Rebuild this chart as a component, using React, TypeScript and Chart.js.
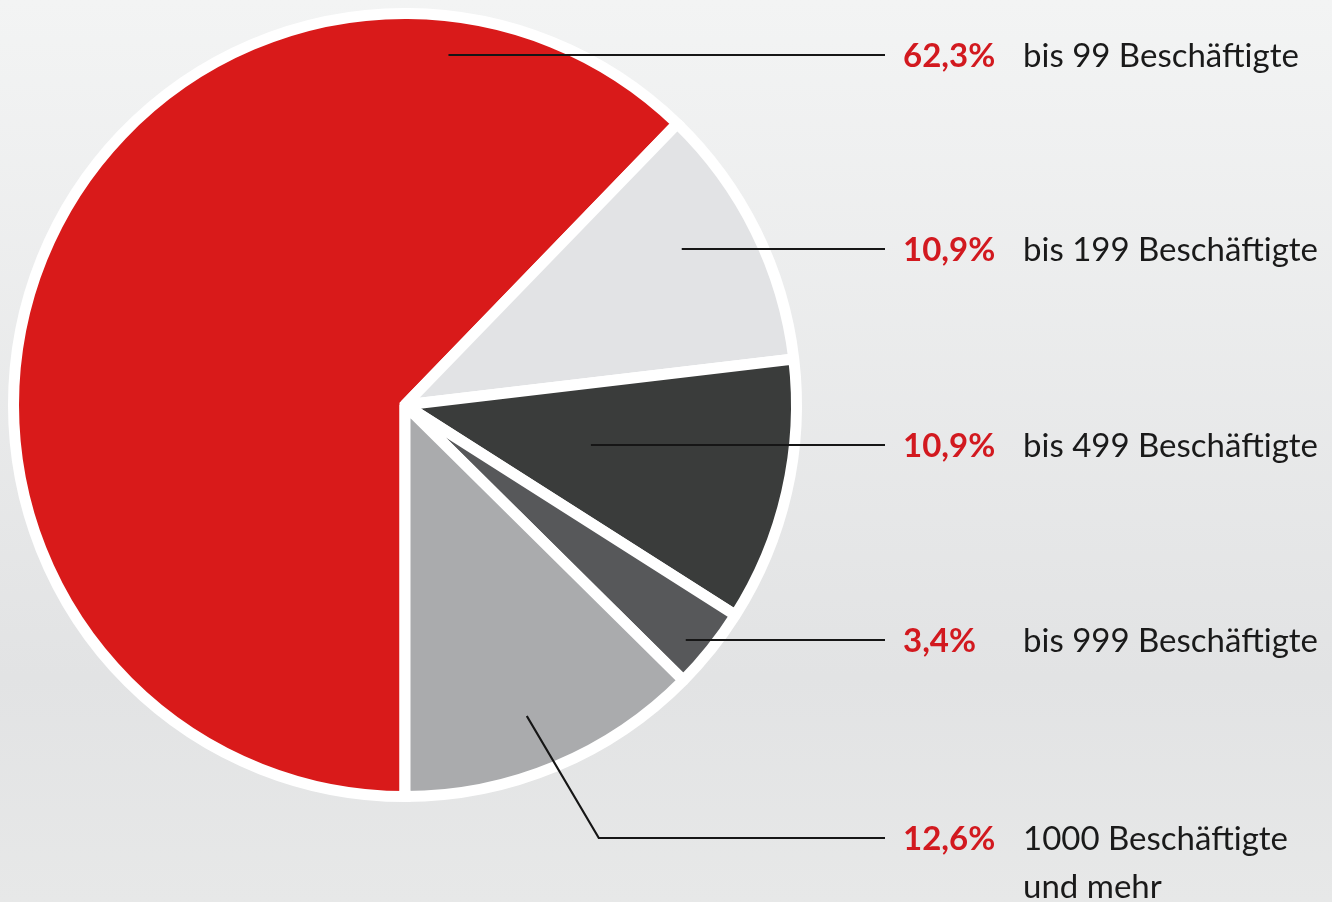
import React, { useEffect, useRef } from "react";
import { Chart, registerables } from "chart.js";

Chart.register(...registerables);

// ---- data ----
const categories: string[][] = [
  ["bis 99 Beschäftigte"],
  ["bis 199 Beschäftigte"],
  ["bis 499 Beschäftigte"],
  ["bis 999 Beschäftigte"],
  ["1000 Beschäftigte", "und mehr"],
];
const shares: number[] = [62.3, 10.9, 10.9, 3.4, 12.6];
const sliceColors: string[] = ["#D91A1A", "#E2E3E5", "#3A3C3B", "#57585A", "#AAABAD"];

const formatShare = (v: number) => v.toFixed(1).replace(".", ",") + "%";

// ---- label / leader plugin ----
const leaderPlugin = {
  id: "leaderLabels",
  beforeDraw(chart: any) {
    const { ctx, width, height } = chart;
    const g = ctx.createLinearGradient(0, 0, 0, height);
    g.addColorStop(0, "#F3F4F4");
    g.addColorStop(0.75, "#E2E3E4");
    g.addColorStop(1, "#E7E8E8");
    ctx.save();
    ctx.fillStyle = g;
    ctx.fillRect(0, 0, width, height);
    ctx.restore();
  },
  afterDraw(chart: any, _args: any, opts: any) {
    const { ctx } = chart;
    const meta = chart.getDatasetMeta(0);
    const labels = chart.data.labels as string[][];
    const values = chart.data.datasets[0].data as number[];
    ctx.save();
    meta.data.forEach((arc: any, i: number) => {
      const { x, y, startAngle, endAngle, outerRadius } = arc.getProps(
        ["x", "y", "startAngle", "endAngle", "outerRadius"],
        true
      );
      const a = opts.anchors[i];
      const ang = startAngle + (endAngle - startAngle) * a.t;
      const ax = x + Math.cos(ang) * outerRadius * a.r;
      const ay = y + Math.sin(ang) * outerRadius * a.r;
      const drop = a.drop || 0;
      const labelY = Math.round(ay + drop);

      ctx.strokeStyle = "#161616";
      ctx.lineWidth = 2.2;
      ctx.lineJoin = "miter";
      ctx.beginPath();
      ctx.moveTo(ax, drop ? ay : labelY);
      if (drop) ctx.lineTo(ax + a.dropDx, labelY);
      ctx.lineTo(opts.lineEndX, labelY);
      ctx.stroke();

      const base = labelY + opts.baselineShift;
      ctx.textBaseline = "alphabetic";
      ctx.textAlign = "left";
      ctx.font = `bold ${opts.fontSize}px Lato, "Open Sans", sans-serif`;
      ctx.fillStyle = "#D2191F";
      ctx.fillText(formatShare(values[i]), opts.shareX, base);

      ctx.font = `${opts.fontSize}px Lato, "Open Sans", sans-serif`;
      ctx.fillStyle = "#1A1A1A";
      labels[i].forEach((line: string, k: number) => {
        ctx.fillText(line, opts.categoryX, base + k * opts.lineHeight);
      });
    });
    ctx.restore();
  },
};

export default function App() {
  const canvasRef = useRef<HTMLCanvasElement | null>(null);

  useEffect(() => {
    if (!canvasRef.current) return;
    const chart = new Chart(canvasRef.current, {
      type: "pie",
      data: {
        labels: categories,
        datasets: [
          {
            data: shares,
            backgroundColor: sliceColors,
            borderColor: "#FFFFFF",
            borderWidth: 11,
            borderJoinStyle: ["miter", "bevel", "bevel", "bevel", "bevel"] as any,
          },
        ],
      },
      options: {
        responsive: false,
        animation: false,
        events: [],
        rotation: 180,
        layout: { padding: { left: 8, top: 8, right: 530, bottom: 100 } },
        plugins: {
          legend: { display: false },
          tooltip: { enabled: false },
          leaderLabels: {
            anchors: [
              { t: 0.835, r: 0.9 },
              { t: 0.42, r: 0.812 },
              { t: 0.485, r: 0.486 },
              { t: 0.61, r: 0.935 },
              { t: 0.528, r: 0.853, drop: 122, dropDx: 72 },
            ],
            lineEndX: 885,
            shareX: 903,
            categoryX: 1023,
            fontSize: 33,
            baselineShift: 12,
            lineHeight: 48,
          },
        } as any,
      },
      plugins: [leaderPlugin],
    });
    return () => chart.destroy();
  }, []);

  return (
    <div style={{ position: "absolute", left: 0, top: 0, width: 1332, height: 902 }}>
      <canvas ref={canvasRef} width={1332} height={902} style={{ display: "block" }} />
    </div>
  );
}
